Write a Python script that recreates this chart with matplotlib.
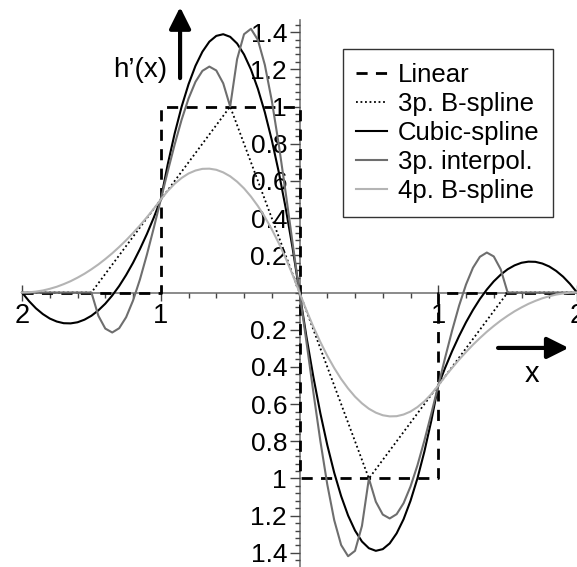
import matplotlib
matplotlib.use("Agg")
import matplotlib.pyplot as plt
import numpy as np
from matplotlib.ticker import FixedLocator, FixedFormatter

plt.rcParams["font.family"] = ["Liberation Sans", "DejaVu Sans"]

# sample positions for the smooth curves (x = -2 .. 2, step 0.05)
X = np.round(np.linspace(-2, 2, 81), 2)

CUBIC_SPLINE = [
    0, -0.046, -0.085, -0.116, -0.14, -0.156, -0.165, -0.166, -0.16, -0.146,
    -0.125, -0.096, -0.06, -0.016, 0.035, 0.094, 0.16, 0.234, 0.315, 0.404,
    0.5, 0.689, 0.855, 0.999, 1.12, 1.219, 1.295, 1.349, 1.38, 1.389,
    1.375, 1.339, 1.28, 1.199, 1.095, 0.969, 0.82, 0.649, 0.455, 0.239,
    0,
    -0.239, -0.455, -0.649, -0.82, -0.969, -1.095, -1.199, -1.28, -1.339,
    -1.375, -1.389, -1.38, -1.349, -1.295, -1.219, -1.12, -0.999, -0.855, -0.689,
    -0.5, -0.404, -0.315, -0.234, -0.16, -0.094, -0.035, 0.016, 0.06, 0.096,
    0.125, 0.146, 0.16, 0.166, 0.165, 0.156, 0.14, 0.116, 0.085, 0.046,
    0,
]

INTERPOL_3P = [
    0, 0, 0, 0, 0, 0, 0, 0, 0, 0,
    0, -0.125, -0.194, -0.215, -0.192, -0.133, -0.043, 0.071, 0.204, 0.349,
    0.5, 0.651, 0.796, 0.929, 1.043, 1.133, 1.192, 1.215, 1.194, 1.125,
    1.0, 1.255, 1.389, 1.418, 1.358, 1.224, 1.032, 0.798, 0.538, 0.266,
    0,
    -0.266, -0.538, -0.798, -1.032, -1.224, -1.358, -1.418, -1.389, -1.255,
    -1.0, -1.125, -1.194, -1.215, -1.192, -1.133, -1.043, -0.929, -0.796, -0.651,
    -0.5, -0.349, -0.204, -0.071, 0.043, 0.133, 0.192, 0.215, 0.194, 0.125,
    0, 0, 0, 0, 0, 0, 0, 0, 0, 0,
    0,
]

BSPLINE_4P = [
    0, 0.001, 0.005, 0.011, 0.02, 0.031, 0.045, 0.061, 0.08, 0.101,
    0.125, 0.151, 0.18, 0.211, 0.245, 0.281, 0.32, 0.361, 0.405, 0.451,
    0.5, 0.546, 0.585, 0.616, 0.64, 0.656, 0.665, 0.666, 0.66, 0.646,
    0.625, 0.596, 0.56, 0.516, 0.465, 0.406, 0.34, 0.266, 0.185, 0.096,
    0,
    -0.096, -0.185, -0.266, -0.34, -0.406, -0.465, -0.516, -0.56, -0.596,
    -0.625, -0.646, -0.66, -0.666, -0.665, -0.656, -0.64, -0.616, -0.585, -0.546,
    -0.5, -0.451, -0.405, -0.361, -0.32, -0.281, -0.245, -0.211, -0.18, -0.151,
    -0.125, -0.101, -0.08, -0.061, -0.045, -0.031, -0.02, -0.011, -0.005, -0.001,
    0,
]

# piecewise-linear ones: breakpoints only
LINEAR_X = [-2, -1, -1, 0, 0, 1, 1, 2]
LINEAR_Y = [0, 0, 1, 1, -1, -1, 0, 0]
BSPLINE_3P_X = [-2, -1.5, -0.5, 0.5, 1.5, 2]
BSPLINE_3P_Y = [0, 0, 1, -1, 0, 0]

X_TICKS = [-2, -1, 1, 2]
X_TICK_LABELS = ["2", "1", "1", "2"]
Y_TICKS = [-1.4, -1.2, -1.0, -0.8, -0.6, -0.4, -0.2, 0.2, 0.4, 0.6, 0.8, 1.0, 1.2, 1.4]
Y_TICK_LABELS = ["1.4", "1.2", "1", "0.8", "0.6", "0.4", "0.2",
                 "0.2", "0.4", "0.6", "0.8", "1", "1.2", "1.4"]


def main():
    fig = plt.figure(figsize=(5.77, 5.67), dpi=100)
    ax = fig.add_axes([0, 0, 1, 1])
    ax.set_xlim(-2.159, 2.0)
    ax.set_ylim(-1.476, 1.573)

    axis_col = "#777777"
    for s in ("top", "right"):
        ax.spines[s].set_visible(False)
    ax.spines["left"].set_position(("data", 0))
    ax.spines["bottom"].set_position(("data", 0))
    ax.spines["left"].set_bounds(-1.48, 1.465)
    ax.spines["bottom"].set_bounds(-2, 2)
    for s in ("left", "bottom"):
        ax.spines[s].set_color(axis_col)
        ax.spines[s].set_linewidth(1.2)
        ax.spines[s].set_zorder(1)

    ax.xaxis.set_major_locator(FixedLocator(X_TICKS))
    ax.xaxis.set_major_formatter(FixedFormatter(X_TICK_LABELS))
    ax.xaxis.set_minor_locator(FixedLocator(np.round(np.arange(-1.8, 1.81, 0.2), 2)))
    ax.yaxis.set_major_locator(FixedLocator(Y_TICKS))
    ax.yaxis.set_major_formatter(FixedFormatter(Y_TICK_LABELS))
    ax.yaxis.set_minor_locator(FixedLocator(np.round(np.arange(-1.44, 1.441, 0.04), 2)))

    ax.tick_params(axis="x", which="major", direction="inout", length=11,
                   width=1, color="#444444", labelsize=19.5, pad=2)
    ax.tick_params(axis="x", which="minor", direction="out", length=3.5,
                   width=1, color="#444444")
    ax.tick_params(axis="y", which="major", direction="out", length=7,
                   width=1, color="#444444", labelsize=19, pad=2)
    ax.tick_params(axis="y", which="minor", direction="out", length=3.5,
                   width=1, color="#444444")

    ax.plot(LINEAR_X, LINEAR_Y, color="black", lw=2.0, dashes=(4, 3),
            label="Linear", zorder=3)
    ax.plot(BSPLINE_3P_X, BSPLINE_3P_Y, color="black", lw=1.3, dashes=(1, 1.5),
            label="3p. B-spline", zorder=3)
    ax.plot(X, CUBIC_SPLINE, color="black", lw=1.5, label="Cubic-spline", zorder=3)
    ax.plot(X, INTERPOL_3P, color="#6e6e6e", lw=1.5, label="3p. interpol.", zorder=3)
    ax.plot(X, BSPLINE_4P, color="#b4b4b4", lw=1.5, label="4p. B-spline", zorder=3)

    # axis arrows + labels
    arrow = dict(arrowstyle="-|>,head_length=0.5,head_width=0.25", lw=3,
                 color="black", mutation_scale=26, shrinkA=0, shrinkB=0)
    ax.annotate("", xy=(-0.861, 1.535), xytext=(-0.861, 1.153), arrowprops=arrow)
    ax.annotate("", xy=(1.94, -0.298), xytext=(1.431, -0.298), arrowprops=arrow)
    ax.text(-1.15, 1.196, "h\u2019(x)", fontsize=20, ha="center", va="center")
    ax.text(1.676, -0.44, "x", fontsize=21, ha="center", va="center")

    leg = ax.legend(loc="upper left", bbox_to_anchor=(0.594, 0.913),
                    fontsize=18.5, frameon=True, fancybox=False,
                    handlelength=1.2, handletextpad=0.42, labelspacing=0.2,
                    borderpad=0.52, borderaxespad=0)
    leg.get_frame().set_edgecolor("black")
    leg.get_frame().set_linewidth(1.0)

    fig.savefig("out.png", dpi=100)
    plt.close(fig)


if __name__ == "__main__":
    main()
